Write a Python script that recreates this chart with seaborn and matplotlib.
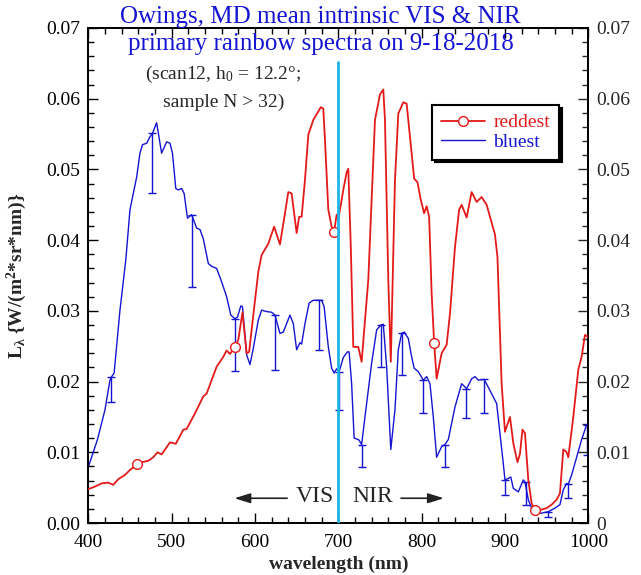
import numpy as np
import pandas as pd
import matplotlib
matplotlib.use("Agg")
import matplotlib.pyplot as plt
import seaborn as sns

# ---------------- data ----------------
blue_wl = [400, 411, 420, 426, 428, 431, 438, 445, 450, 454, 458, 462, 465, 470, 474, 477, 482, 488, 494, 498,
           501, 505, 508, 512, 515, 519, 524, 530, 534, 538, 544, 548, 554, 560, 566, 571, 576, 579, 583, 585,
           590, 594, 598, 604, 608, 614, 620, 624, 630, 634, 642, 646, 650, 654, 656, 660, 665, 670, 680, 683,
           688, 692, 695, 698, 701, 706, 711, 713, 716, 719, 724, 725, 728, 732, 740, 746, 751, 754, 758, 763,
           768, 772, 776, 779, 784, 788, 791, 796, 802, 806, 810, 814, 818, 824, 828, 832, 836, 840, 848, 854,
           860, 864, 868, 875, 880, 886, 890, 894, 898, 900, 904, 907, 910, 916, 922, 924, 928, 932, 936, 944,
           952, 960, 966, 970, 974, 976, 980, 986, 992, 998, 1000]
blue_val = [0.0079, 0.0118, 0.0160, 0.0202, 0.0207, 0.0212, 0.0301, 0.0372, 0.0443, 0.0466, 0.0489, 0.0523,
            0.0535, 0.0537, 0.0546, 0.0551, 0.0566, 0.0523, 0.0539, 0.0537, 0.0523, 0.0473, 0.0471, 0.0473,
            0.0466, 0.0431, 0.0436, 0.0417, 0.0415, 0.0402, 0.0367, 0.0363, 0.0360, 0.0341, 0.0320, 0.0294,
            0.0289, 0.0291, 0.0307, 0.0306, 0.0238, 0.0224, 0.0247, 0.0287, 0.0301, 0.0299, 0.0298, 0.0294,
            0.0268, 0.0270, 0.0294, 0.0282, 0.0245, 0.0255, 0.0253, 0.0282, 0.0311, 0.0315, 0.0315, 0.0306,
            0.0249, 0.0219, 0.0212, 0.0218, 0.0214, 0.0234, 0.0242, 0.0242, 0.0197, 0.0120, 0.0118, 0.0117,
            0.0111, 0.0150, 0.0226, 0.0273, 0.0280, 0.0281, 0.0221, 0.0104, 0.0160, 0.0245, 0.0268, 0.0270,
            0.0261, 0.0235, 0.0219, 0.0214, 0.0202, 0.0207, 0.0197, 0.0150, 0.0093, 0.0108, 0.0111, 0.0118,
            0.0141, 0.0164, 0.0197, 0.0190, 0.0204, 0.0207, 0.0202, 0.0203, 0.0192, 0.0178, 0.0169, 0.0127,
            0.0084, 0.0061, 0.0063, 0.0065, 0.0049, 0.0044, 0.0061, 0.0058, 0.0033, 0.0021, 0.0014, 0.0014,
            0.0016, 0.0021, 0.0026, 0.0047, 0.0056, 0.0055, 0.0068, 0.0093, 0.0118, 0.0139, 0.0141]

red_wl = [400, 407, 416, 424, 430, 436, 444, 450, 459, 464, 472, 478, 483, 488, 498, 505, 514, 518, 528, 538,
          542, 554, 562, 566, 570, 576, 580, 585, 590, 593, 598, 604, 608, 616, 623, 630, 636, 640, 644, 650,
          653, 656, 660, 664, 670, 679, 682, 684, 688, 692, 695, 698, 700, 706, 710, 712, 715, 718, 724, 728,
          736, 744, 750, 754, 756, 760, 763, 768, 772, 778, 782, 788, 791, 795, 799, 803, 806, 809, 812, 815,
          818, 824, 830, 834, 840, 845, 848, 854, 860, 866, 872, 878, 883, 888, 891, 896, 900, 906, 910, 915,
          918, 921, 924, 928, 932, 936, 944, 950, 956, 962, 966, 970, 974, 976, 982, 988, 992, 996, 1000]
red_val = [0.0048, 0.0051, 0.0056, 0.0057, 0.0054, 0.0062, 0.0068, 0.0075, 0.0083, 0.0086, 0.0088, 0.0093,
           0.0100, 0.0097, 0.0114, 0.0112, 0.0132, 0.0133, 0.0155, 0.0179, 0.0183, 0.0221, 0.0235, 0.0244,
           0.0239, 0.0249, 0.0259, 0.0298, 0.0240, 0.0242, 0.0294, 0.0355, 0.0379, 0.0395, 0.0419, 0.0394,
           0.0438, 0.0468, 0.0466, 0.0410, 0.0433, 0.0433, 0.0485, 0.0549, 0.0570, 0.0588, 0.0586, 0.0542,
           0.0443, 0.0419, 0.0412, 0.0436, 0.0429, 0.0471, 0.0496, 0.0501, 0.0390, 0.0249, 0.0249, 0.0228,
           0.0344, 0.0570, 0.0606, 0.0613, 0.0570, 0.0344, 0.0228, 0.0485, 0.0579, 0.0595, 0.0593, 0.0523,
           0.0487, 0.0482, 0.0457, 0.0438, 0.0448, 0.0433, 0.0325, 0.0255, 0.0204, 0.0240, 0.0252, 0.0296,
           0.0390, 0.0443, 0.0450, 0.0432, 0.0468, 0.0454, 0.0461, 0.0450, 0.0429, 0.0408, 0.0376, 0.0197,
           0.0129, 0.0150, 0.0113, 0.0086, 0.0098, 0.0132, 0.0127, 0.0061, 0.0028, 0.0018, 0.0019, 0.0021,
           0.0026, 0.0033, 0.0042, 0.0104, 0.0100, 0.0093, 0.0150, 0.0217, 0.0235, 0.0266, 0.0263]
red_marker_wl = [459, 576, 695, 815, 936]

err_wl = [427, 477, 524, 576, 624, 677, 701, 728, 751, 776, 802, 828, 853, 875, 900, 925, 952, 976, 998]
err_top = [0.0207, 0.0551, 0.0436, 0.0289, 0.0294, 0.0315, 0.0214, 0.0111, 0.0280, 0.0268, 0.0202, 0.0111,
           0.0190, 0.0203, 0.0061, 0.0058, 0.0016, 0.0055, 0.0139]
err_bot = [0.0171, 0.0467, 0.0334, 0.0215, 0.0217, 0.0244, 0.0160, 0.0079, 0.0221, 0.0210, 0.0155, 0.0079,
           0.0148, 0.0155, 0.0040, 0.0026, 0.0008, 0.0035, 0.0096]

x_ticks = [400, 500, 600, 700, 800, 900, 1000]
y_ticks = [0.00, 0.01, 0.02, 0.03, 0.04, 0.05, 0.06, 0.07]

RED = "#e41a1a"
BLUE = "#1414d2"
CYAN = "#1eb4e6"

# ---------------- style ----------------
sns.set_theme(style="ticks")
plt.rcParams["font.family"] = ["Liberation Serif", "DejaVu Serif"]
plt.rcParams["mathtext.fontset"] = "custom"
plt.rcParams["mathtext.rm"] = "Liberation Serif"
plt.rcParams["mathtext.it"] = "Liberation Serif:italic"
plt.rcParams["mathtext.bf"] = "Liberation Serif:bold"

fig = plt.figure(figsize=(6.41, 5.75), dpi=100)
ax = fig.add_axes([88.3 / 641, 1 - 523 / 575, 500 / 641, 495 / 575])

red_df = pd.DataFrame({"wl": red_wl, "L": red_val})
blue_df = pd.DataFrame({"wl": blue_wl, "L": blue_val})
mark_idx = [red_wl.index(w) for w in red_marker_wl]

sns.lineplot(data=red_df, x="wl", y="L", ax=ax, color=RED, lw=1.3, label="reddest",
             marker="o", markevery=mark_idx, markersize=7, markerfacecolor="white",
             markeredgecolor=RED, markeredgewidth=1.0, sort=False, zorder=3)
sns.lineplot(data=blue_df, x="wl", y="L", ax=ax, color=BLUE, lw=1.0, label="bluest", sort=False, zorder=2)

e_top = np.array(err_top)
e_bot = np.array(err_bot)
ax.errorbar(err_wl, e_top, yerr=[e_top - e_bot, np.zeros_like(e_top)], fmt="none",
            ecolor=BLUE, elinewidth=1.0, capsize=3, capthick=1.0, zorder=2)

ax.axvline(700, ymin=0, ymax=0.931, color=CYAN, lw=2, zorder=4)

ax.set_xlim(400, 1000)
ax.set_ylim(0, 0.07)
ax.set_xticks(x_ticks)
ax.set_yticks(y_ticks)
ax.set_xticklabels([str(t) for t in x_ticks])
ax.set_yticklabels([f"{t:.2f}" for t in y_ticks])
ax.xaxis.set_minor_locator(matplotlib.ticker.MultipleLocator(20))
ax.yaxis.set_minor_locator(matplotlib.ticker.MultipleLocator(0.002))
ax.tick_params(which="both", direction="in", top=True, right=False, labelsize=14, colors="black")
ax.tick_params(which="major", length=7, width=1)
ax.tick_params(which="minor", length=4, width=1)
ax.tick_params(axis="x", pad=8)
ax.tick_params(axis="y", pad=6)

ax2 = ax.twinx()
ax2.set_ylim(0, 0.07)
ax2.set_yticks(y_ticks)
ax2.set_yticklabels(["0" if t == 0 else f"{t:.2f}" for t in y_ticks])
ax2.yaxis.set_minor_locator(matplotlib.ticker.MultipleLocator(0.002))
ax2.tick_params(which="both", direction="in", labelsize=14, pad=6)
ax2.tick_params(which="major", length=7, width=1)
ax2.tick_params(which="minor", length=4, width=1)
ax2.grid(False)

for a in (ax, ax2):
    for s in a.spines.values():
        s.set_linewidth(1.3)
        s.set_color("black")

ax.set_xlabel("wavelength (nm)", fontsize=14, fontweight="bold", labelpad=3)
ax.set_ylabel(r"$\mathbf{L_{\lambda}}$ {W/(m$^\mathbf{2}$*sr*nm)}", fontsize=14, fontweight="bold", labelpad=12)

fig.text(0.5, 1 - 17 / 575, "Owings, MD mean intrinsic VIS & NIR", color=BLUE, fontsize=18,
         ha="center", va="center")
fig.text(0.5, 1 - 44 / 575, "primary rainbow spectra on 9-18-2018", color=BLUE, fontsize=18,
         ha="center", va="center")

ax.text(562, 0.0634, r"(scan12, h$_0$ = 12.2°;", fontsize=14, ha="center", va="center")
ax.text(562, 0.0595, "sample N > 32)", fontsize=14, ha="center", va="center")

ax.annotate("", xy=(572, 0.0035), xytext=(642, 0.0035),
            arrowprops=dict(arrowstyle="-|>,head_length=0.8,head_width=0.25", color="#222222", lw=1.2))
ax.text(672, 0.0037, "VIS", fontsize=17, ha="center", va="center")
ax.text(741, 0.0037, "NIR", fontsize=17, ha="center", va="center")
ax.annotate("", xy=(830, 0.0035), xytext=(772, 0.0035),
            arrowprops=dict(arrowstyle="-|>,head_length=0.8,head_width=0.25", color="#222222", lw=1.2))

if ax.get_legend():
    ax.get_legend().remove()
leg = ax.legend(loc="upper left", bbox_to_anchor=(432 / 641, 1 - 105 / 575),
                bbox_transform=fig.transFigure, borderaxespad=0, frameon=True, fancybox=False,
                shadow={"color": "black", "alpha": 1.0}, fontsize=14, labelcolor="linecolor",
                handlelength=2.3, handletextpad=0.4, borderpad=0.45, labelspacing=0.1,
                framealpha=1, edgecolor="black")
leg.get_frame().set_linewidth(1.5)
ax2.set_zorder(ax.get_zorder() - 1)
ax.patch.set_visible(False)

fig.savefig("out.png", dpi=100)
